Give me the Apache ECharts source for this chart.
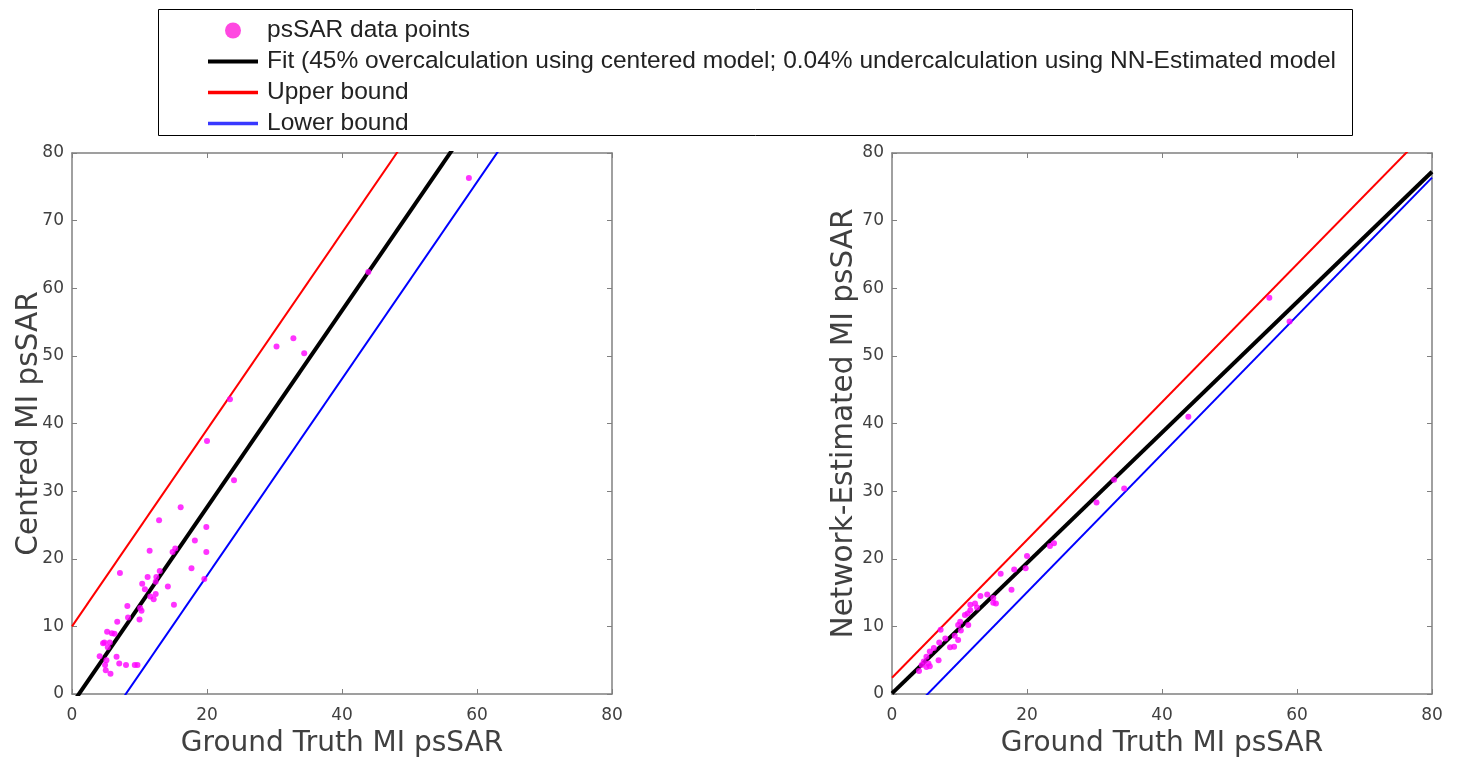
<!DOCTYPE html>
<html>
<head>
<meta charset="utf-8">
<script src="https://cdn.jsdelivr.net/npm/echarts@6/dist/echarts.min.js"></script>
<style>
  html, body { margin: 0; padding: 0; background: #fff; }
  #main { width: 1469px; height: 758px; }
</style>
</head>
<body>
<div id="main"></div>
<script>
var chart = echarts.init(document.getElementById("main"));

// legend names
var scatterName = "psSAR data points";
var fitName = "Fit (45% overcalculation using centered model; 0.04% undercalculation using NN-Estimated model";
var upperName = "Upper bound";
var lowerName = "Lower bound";

// axis ticks
var axisMin = 0, axisMax = 80;
var xTickStep = 20, yTickStep = 10;

// left panel: ground truth vs centred model
var leftPoints = [
  [58.8, 76.3], [43.9, 62.4], [34.4, 50.4], [32.8, 52.6], [30.3, 51.4], [23.4, 43.6],
  [20.0, 37.4], [24.0, 31.6], [16.1, 27.6], [12.9, 25.7], [19.9, 24.7], [18.2, 22.7],
  [11.5, 21.2], [14.9, 21.0], [15.3, 21.5], [19.9, 21.0], [17.7, 18.6], [7.1, 17.9],
  [13.0, 18.2], [11.2, 17.3], [12.5, 17.3], [19.6, 17.0], [10.4, 16.3], [12.4, 16.6],
  [14.2, 15.9], [10.8, 15.5], [12.4, 14.8], [11.6, 14.4], [12.1, 14.0], [15.1, 13.2],
  [8.2, 13.0], [10.1, 12.7], [10.3, 12.3], [8.3, 11.3], [10.0, 11.0], [6.7, 10.7],
  [5.2, 9.2], [5.9, 9.0], [6.3, 8.9], [4.8, 7.6], [4.6, 7.5], [5.6, 7.6], [5.3, 6.9],
  [4.1, 5.6], [6.6, 5.5], [5.1, 5.0], [7.0, 4.5], [8.0, 4.3], [9.3, 4.3], [9.7, 4.3],
  [4.9, 4.3], [5.0, 3.5], [5.7, 3.0]
];
// [slope, intercept]
var leftFit = [1.455, -1.5];
var leftUpper = [1.455, 10.0];
var leftLower = [1.455, -11.6];

// right panel: ground truth vs network-estimated model
var rightPoints = [
  [55.9, 58.6], [58.9, 55.1], [43.9, 41.0], [34.4, 30.4], [32.9, 31.7], [30.3, 28.3],
  [24.0, 22.3], [23.4, 21.9], [20.0, 20.4], [19.8, 18.6], [18.1, 18.4], [16.1, 17.8],
  [17.7, 15.4], [15.0, 14.2], [14.1, 14.7], [13.1, 14.5], [15.0, 13.5], [15.4, 13.4],
  [11.6, 13.2], [12.3, 13.4], [12.6, 12.8], [11.6, 12.4], [11.2, 11.9], [10.8, 11.7],
  [10.1, 10.7], [9.8, 10.2], [11.3, 10.2], [10.2, 9.4], [9.8, 8.0], [9.3, 8.6],
  [7.2, 9.5], [7.9, 8.2], [7.0, 7.6], [8.6, 6.9], [9.2, 7.0], [6.2, 6.8], [5.6, 6.3],
  [6.9, 5.0], [5.1, 5.5], [4.7, 4.8], [5.4, 4.5], [5.6, 4.1], [5.1, 4.0], [4.4, 4.3],
  [4.0, 3.4]
];
var rightFit = [0.964, 0.1];
var rightUpper = [1.019, 2.4];
var rightLower = [1.022, -5.4];

var yNames = ["Centred MI psSAR", "Network-Estimated MI psSAR"];
var xName = "Ground Truth MI psSAR";

function lineData(p) {
  return [[axisMin, p[0] * axisMin + p[1]], [axisMax, p[0] * axisMax + p[1]]];
}

var axisGray = "#808080";
var textGray = "#404040";
var font = "DejaVu Sans";

// short line legend icon; the hairline slivers keep the 50x16 box
function lineIcon(h) {
  var a = (8 - h / 2).toFixed(2), b = (8 + h / 2).toFixed(2);
  return "path://M0,0 L50,0 L50,0.01 L0,0.01 Z M0," + a + " L50," + a + " L50," + b + " L0," + b +
    " Z M0,15.99 L50,15.99 L50,16 L0,16 Z";
}

function mainAxis(kind, name, step, gap) {
  return {
    type: "value",
    min: axisMin, max: axisMax, interval: step,
    name: name, nameLocation: "middle",
    nameGap: gap, nameMoveOverlap: false,
    nameTextStyle: { fontFamily: font, fontSize: kind === "x" ? 28 : 29.5, color: textGray },
    axisLine: { show: true, onZero: false, lineStyle: { color: axisGray, width: 1.5 } },
    axisTick: { show: true, inside: true, length: 5, lineStyle: { color: axisGray } },
    axisLabel: { fontFamily: font, fontSize: 17, color: textGray, margin: kind === "x" ? 13 : 8 },
    splitLine: { show: false }
  };
}
function mirrorAxis(step, pos) {
  return {
    type: "value", position: pos,
    min: axisMin, max: axisMax, interval: step,
    axisLine: { show: true, onZero: false, lineStyle: { color: axisGray, width: 1.5 } },
    axisTick: { show: true, inside: true, length: 5, lineStyle: { color: axisGray } },
    axisLabel: { show: false },
    splitLine: { show: false }
  };
}

var yGaps = [28, 33];
var xAxes = [], yAxes = [];
[0, 1].forEach(function (g) {
  var xa = mainAxis("x", xName, xTickStep, 36); xa.gridIndex = g; xa.position = "bottom";
  var xb = mirrorAxis(xTickStep, "top"); xb.gridIndex = g;
  var ya = mainAxis("y", yNames[g], yTickStep, yGaps[g]); ya.gridIndex = g; ya.position = "left";
  var yb = mirrorAxis(yTickStep, "right"); yb.gridIndex = g;
  xAxes.push(xa, xb);
  yAxes.push(ya, yb);
});

function panelSeries(g, pts, fit, up, low) {
  var xi = g * 2, yi = g * 2;
  return [
    { name: scatterName, type: "scatter", xAxisIndex: xi, yAxisIndex: yi,
      data: pts, symbolSize: 6, itemStyle: { color: "#ff00ff" }, z: 5 },
    { name: upperName, type: "line", xAxisIndex: xi, yAxisIndex: yi, data: lineData(up),
      symbol: "none", lineStyle: { color: "#ff0000", width: 2 }, itemStyle: { color: "#ff0000" } },
    { name: lowerName, type: "line", xAxisIndex: xi, yAxisIndex: yi, data: lineData(low),
      symbol: "none", lineStyle: { color: "#0000ff", width: 2 }, itemStyle: { color: "#3838ff" } },
    { name: fitName, type: "line", xAxisIndex: xi, yAxisIndex: yi, data: lineData(fit),
      symbol: "none", lineStyle: { color: "#000000", width: 4 }, itemStyle: { color: "#000000" } }
  ];
}

var option = {
  animation: false,
  backgroundColor: "#ffffff",
  graphic: [{
    type: "rect", left: 156, top: 7,
    shape: { width: 1194, height: 126 },
    style: { fill: "none", stroke: "#000000", lineWidth: 1 }
  }],
  legend: {
    orient: "vertical", left: 208, top: 18, padding: 0,
    itemWidth: 50, itemHeight: 16, itemGap: 6,
    textStyle: { fontFamily: "Liberation Sans", fontSize: 24.5, lineHeight: 25, color: "#222222", padding: [0, 0, 0, 4] },
    data: [
      { name: scatterName, icon: "circle", itemStyle: { color: "#ff1ad9" } },
      { name: fitName, icon: lineIcon(4) },
      { name: upperName, icon: lineIcon(3.5) },
      { name: lowerName, icon: lineIcon(3.5) }
    ],
    selectedMode: false
  },
  grid: [
    { left: 72, top: 153, width: 540, height: 541, outerBoundsMode: "none" },
    { left: 892, top: 153, width: 540, height: 541, outerBoundsMode: "none" }
  ],
  xAxis: xAxes,
  yAxis: yAxes,
  series: panelSeries(0, leftPoints, leftFit, leftUpper, leftLower)
    .concat(panelSeries(1, rightPoints, rightFit, rightUpper, rightLower))
};

chart.setOption(option);
window.onresize = chart.resize;
</script>
</body>
</html>
